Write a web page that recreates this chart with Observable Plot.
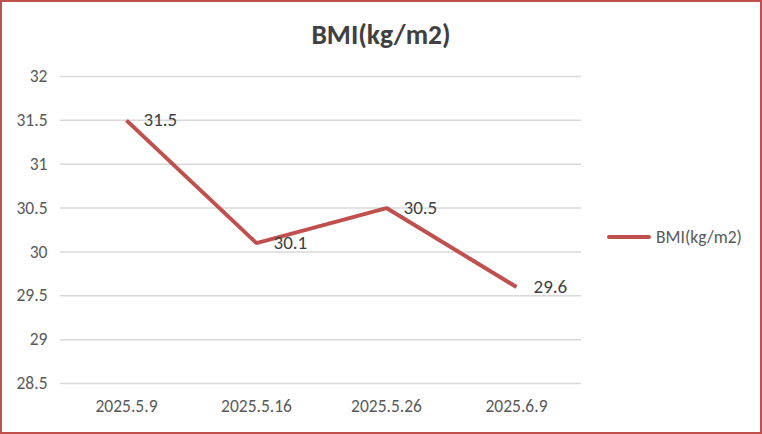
<!DOCTYPE html>
<html>
<head>
<meta charset="utf-8">
<script src="https://cdn.jsdelivr.net/npm/d3@7"></script>
<script src="https://cdn.jsdelivr.net/npm/@observablehq/plot@0.6"></script>
<style>
  html, body { margin: 0; padding: 0; background: #fff; }
  #wrap {
    position: relative; width: 762px; height: 434px; box-sizing: border-box;
    border: 2px solid #c0504d; background: #fff; overflow: hidden;
    font-family: Carlito, Lato, "Liberation Sans", Arial, sans-serif;
  }
  #title {
    position: absolute; left: 0; width: 758px; top: 17px; text-align: center;
    font-size: 27.5px; font-weight: bold; color: #404040; line-height: 32px;
  }
  #chart { position: absolute; left: 0; top: 0; }
  #legend {
    position: absolute; left: 605px; top: 223px; display: flex; align-items: center;
    font-size: 17.5px; color: #595959; height: 24px;
  }
  #legend .sw { width: 44px; height: 4px; background: #c0504d; border-radius: 2px; margin-right: 5px; }
</style>
</head>
<body>
<div id="wrap">
  <div id="title">BMI(kg/m2)</div>
  <div id="chart"></div>
  <div id="legend"><span class="sw"></span><span>BMI(kg/m2)</span></div>
</div>
<script>
const dates = ["2025.5.9", "2025.5.16", "2025.5.26", "2025.6.9"];
const bmi = [31.5, 30.1, 30.5, 29.6];
const yTicks = [28.5, 29, 29.5, 30, 30.5, 31, 31.5, 32];
const seriesName = "BMI(kg/m2)";

const data = dates.map((d, i) => ({date: d, value: bmi[i]}));
const color = "#c0504d";

const chart = Plot.plot({
  width: 758,
  height: 430,
  marginLeft: 58,
  marginRight: 179,
  marginTop: 74,
  marginBottom: 49,
  style: {fontFamily: 'Carlito, Lato, "Liberation Sans", Arial, sans-serif', background: "transparent"},
  x: {type: "point", domain: dates, padding: 0.5, label: null},
  y: {domain: [28.5, 32], ticks: yTicks, label: null},
  marks: [
    Plot.gridY(yTicks, {stroke: "#d9d9d9", strokeOpacity: 1, strokeWidth: 1.5}),
    Plot.axisY(yTicks, {tickSize: 0, tickPadding: 13, fontSize: 17.5, fill: "#595959", tickFormat: d => String(d), label: null}),
    Plot.axisX({tickSize: 0, tickPadding: 16, fontSize: 17.5, fill: "#595959", label: null}),
    Plot.line(data, {x: "date", y: "value", stroke: color, strokeWidth: 4, strokeLinejoin: "miter", strokeLinecap: "butt"}),
    Plot.text(data, {x: "date", y: "value", text: d => String(d.value), textAnchor: "start", dx: 17, dy: 0, fontSize: 19, fill: "#404040"})
  ]
});
document.getElementById("chart").appendChild(chart);
</script>
</body>
</html>
